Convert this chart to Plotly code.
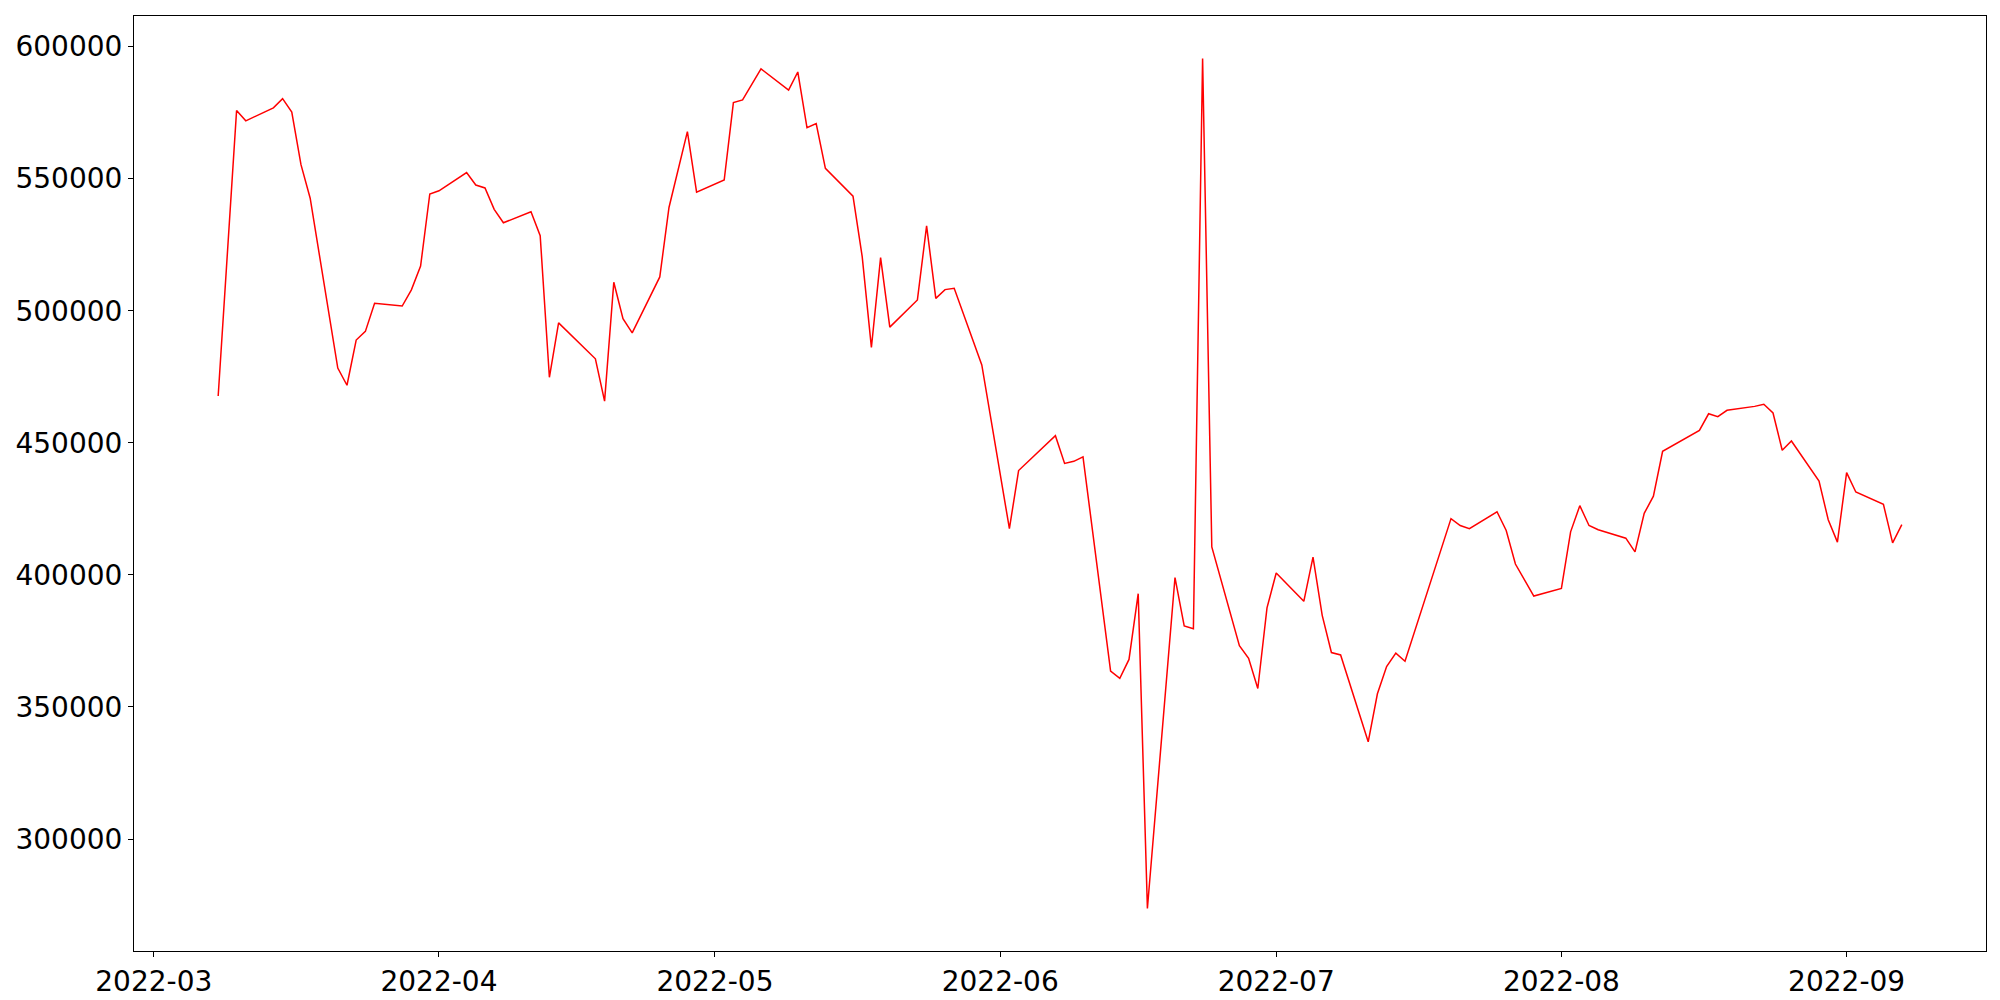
import pandas as pd
import plotly.graph_objects as go

dates = [
    "2022-03-08", "2022-03-10", "2022-03-11", "2022-03-14", "2022-03-15", "2022-03-16", "2022-03-17", "2022-03-18",
    "2022-03-21", "2022-03-22", "2022-03-23", "2022-03-24", "2022-03-25", "2022-03-28", "2022-03-29", "2022-03-30",
    "2022-03-31", "2022-04-01", "2022-04-04", "2022-04-05", "2022-04-06", "2022-04-07", "2022-04-08", "2022-04-11",
    "2022-04-12", "2022-04-13", "2022-04-14", "2022-04-18", "2022-04-19", "2022-04-20", "2022-04-21", "2022-04-22",
    "2022-04-25", "2022-04-26", "2022-04-28", "2022-04-29", "2022-05-02", "2022-05-03", "2022-05-04", "2022-05-06",
    "2022-05-09", "2022-05-10", "2022-05-11", "2022-05-12", "2022-05-13", "2022-05-16", "2022-05-17", "2022-05-18",
    "2022-05-19", "2022-05-20", "2022-05-23", "2022-05-24", "2022-05-25", "2022-05-26", "2022-05-27", "2022-05-30",
    "2022-06-02", "2022-06-03", "2022-06-07", "2022-06-08", "2022-06-09", "2022-06-10", "2022-06-13", "2022-06-14",
    "2022-06-15", "2022-06-16", "2022-06-17", "2022-06-20", "2022-06-21", "2022-06-22", "2022-06-23", "2022-06-24",
    "2022-06-27", "2022-06-28", "2022-06-29", "2022-06-30", "2022-07-01", "2022-07-04", "2022-07-05", "2022-07-06",
    "2022-07-07", "2022-07-08", "2022-07-11", "2022-07-12", "2022-07-13", "2022-07-14", "2022-07-15", "2022-07-20",
    "2022-07-21", "2022-07-22", "2022-07-25", "2022-07-26", "2022-07-27", "2022-07-28", "2022-07-29", "2022-08-01",
    "2022-08-02", "2022-08-03", "2022-08-04", "2022-08-05", "2022-08-08", "2022-08-09", "2022-08-10", "2022-08-11",
    "2022-08-12", "2022-08-16", "2022-08-17", "2022-08-18", "2022-08-19", "2022-08-22", "2022-08-23", "2022-08-24",
    "2022-08-25", "2022-08-26", "2022-08-29", "2022-08-30", "2022-08-31", "2022-09-01", "2022-09-02", "2022-09-05",
    "2022-09-06", "2022-09-07",
]

values = [
    467700, 575800, 571900, 576800, 580300, 575200, 555300, 542600,
    478300, 471800, 488900, 492200, 502800, 501800, 507900, 516900,
    544200, 545400, 552300, 547600, 546500, 538400, 533300, 537500,
    528400, 474800, 495400, 481800, 465800, 510800, 497000, 491600,
    512800, 539100, 567800, 544900, 549500, 578800, 579800, 591600,
    583500, 590400, 569300, 570900, 553900, 543400, 520500, 486100,
    520100, 493800, 504100, 532100, 504700, 508000, 508500, 479500,
    417500, 439500, 452700, 442200, 443000, 444700, 363600, 360800,
    368000, 392900, 273700, 399000, 380700, 379600, 595500, 410600,
    373200, 368400, 357000, 387500, 400700, 390000, 406700, 384700,
    370600, 369700, 336800, 355000, 365300, 370400, 367300, 421300,
    418700, 417500, 423900, 416800, 404100, 398300, 392000, 394900,
    416300, 426200, 418700, 417100, 413900, 408700, 423300, 429800,
    446800, 454700, 461000, 459900, 462300, 463800, 464600, 461300,
    447200, 450700, 435500, 420900, 412400, 438700, 431400, 426700,
    412100, 419000,
]

y_ticks = [300000, 350000, 400000, 450000, 500000, 550000, 600000]
x_ticks = ["2022-03-01", "2022-04-01", "2022-05-01", "2022-06-01", "2022-07-01", "2022-08-01", "2022-09-01"]

dt = pd.to_datetime(dates)
span = dt.max() - dt.min()
x_range = [dt.min() - 0.05 * span, dt.max() + 0.05 * span]
vmin, vmax = min(values), max(values)
y_range = [vmin - 0.05 * (vmax - vmin), vmax + 0.05 * (vmax - vmin)]

fig = go.Figure()
fig.add_trace(go.Scatter(x=dt, y=values, mode="lines",
                         line=dict(color="#ff0000", width=1.5), showlegend=False))

axis_common = dict(
    showline=True, linecolor="black", linewidth=1.1, mirror=True,
    ticks="outside", ticklen=5, tickwidth=1.1, tickcolor="black",
    showgrid=False, zeroline=False,
    tickfont=dict(family="DejaVu Sans", size=28, color="black"),
)

fig.update_xaxes(range=x_range, tickvals=pd.to_datetime(x_ticks), tickformat="%Y-%m", **axis_common)
fig.update_yaxes(range=y_range, tickvals=y_ticks, tickformat="d", **axis_common)

fig.update_layout(
    width=2000, height=1000,
    margin=dict(l=120, r=22, t=7, b=57, pad=0),
    paper_bgcolor="white", plot_bgcolor="white",
    font=dict(family="DejaVu Sans", size=28, color="black"),
)

fig.write_html("out.html")
